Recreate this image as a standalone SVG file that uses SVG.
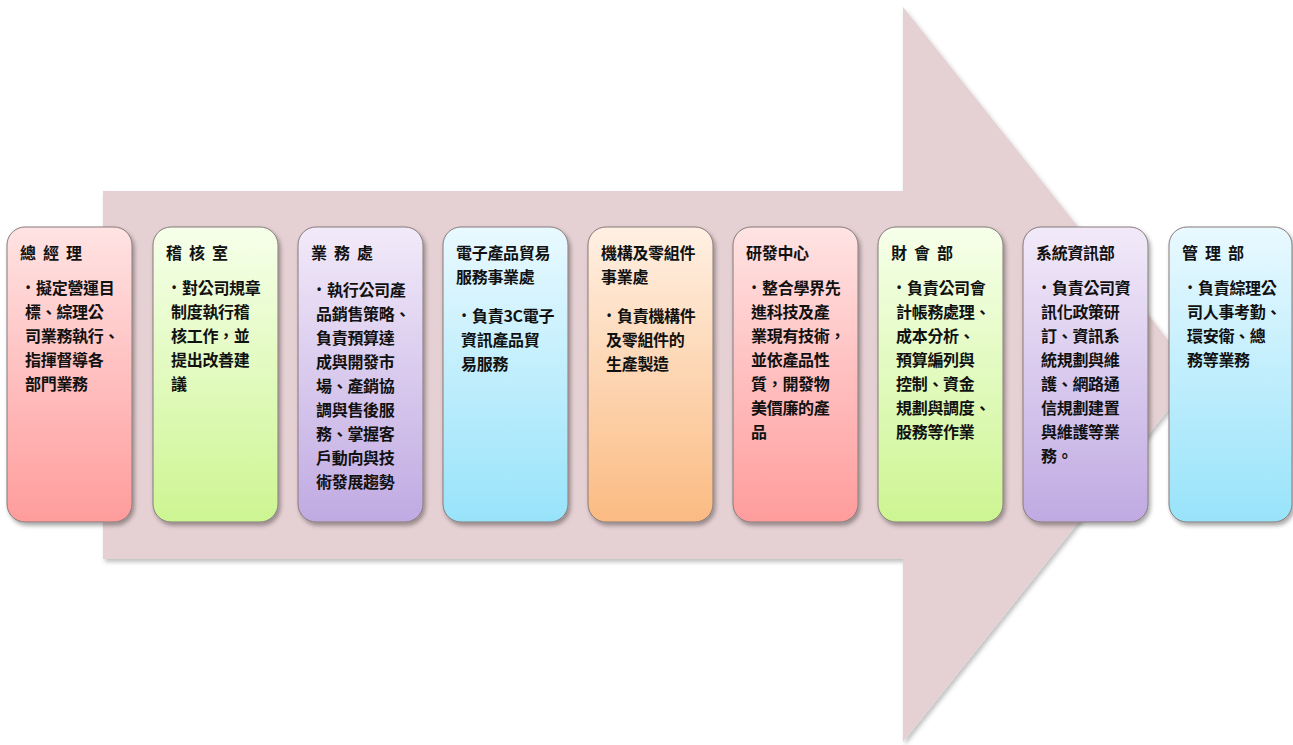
<svg xmlns="http://www.w3.org/2000/svg" width="1293" height="745" viewBox="0 0 1293 745">
<defs>
<filter id="sh" x="-10%" y="-10%" width="120%" height="120%"><feDropShadow dx="2" dy="3" stdDeviation="2" flood-color="#000" flood-opacity="0.35"/></filter>
<filter id="sha" x="-5%" y="-5%" width="110%" height="110%"><feDropShadow dx="2" dy="3" stdDeviation="2" flood-color="#000" flood-opacity="0.25"/></filter>
<linearGradient id="gR" x1="0" y1="0" x2="0" y2="1"><stop offset="0" stop-color="#ffe3e3"/><stop offset="1" stop-color="#ff9c9c"/></linearGradient>
<linearGradient id="gG" x1="0" y1="0" x2="0" y2="1"><stop offset="0" stop-color="#f6ffea"/><stop offset="1" stop-color="#cdf592"/></linearGradient>
<linearGradient id="gP" x1="0" y1="0" x2="0" y2="1"><stop offset="0" stop-color="#f2eaf9"/><stop offset="1" stop-color="#c0aae2"/></linearGradient>
<linearGradient id="gC" x1="0" y1="0" x2="0" y2="1"><stop offset="0" stop-color="#e9f9ff"/><stop offset="1" stop-color="#98e3fa"/></linearGradient>
<linearGradient id="gO" x1="0" y1="0" x2="0" y2="1"><stop offset="0" stop-color="#fff0e3"/><stop offset="1" stop-color="#fbbb82"/></linearGradient>
</defs>
<style>
.box{stroke:#857a7a;stroke-width:1;filter:url(#sh)}
text{font-family:"Noto Sans CJK TC","Noto Sans CJK SC",sans-serif;font-weight:bold;fill:#111;font-size:16px;letter-spacing:-0.3px}
.b{font-family:"Liberation Sans",sans-serif;font-size:12px;font-weight:bold}
</style>
<g id="arrow">
<path d="M103,191 H903 V7 L1196,375 L903,742 V559 H103 Z" fill="#e5d0d3" filter="url(#sha)"/>
</g>
<g id="connectors"/>
<g id="n1">
<rect class="box" x="7" y="227" width="125" height="295" rx="18" fill="url(#gR)"/>
<text y="259"><tspan x="20">總</tspan><tspan x="43">經</tspan><tspan x="66">理</tspan></text>
<text class="b" x="26" y="291">•</text>
<text><tspan x="36" y="294">擬定營運目</tspan><tspan x="25" y="318">標、綜理公</tspan><tspan x="25" y="342">司業務執行、</tspan><tspan x="25" y="366">指揮督導各</tspan><tspan x="25" y="390">部門業務</tspan></text>
</g>
<g id="n2">
<rect class="box" x="153" y="227" width="125" height="295" rx="18" fill="url(#gG)"/>
<text y="259"><tspan x="166">稽</tspan><tspan x="189">核</tspan><tspan x="212">室</tspan></text>
<text class="b" x="172" y="291">•</text>
<text><tspan x="182" y="294">對公司規章</tspan><tspan x="171" y="318">制度執行稽</tspan><tspan x="171" y="342">核工作，並</tspan><tspan x="171" y="366">提出改善建</tspan><tspan x="171" y="390">議</tspan></text>
</g>
<g id="n3">
<rect class="box" x="298" y="227" width="125" height="295" rx="18" fill="url(#gP)"/>
<text y="259"><tspan x="311">業</tspan><tspan x="334">務</tspan><tspan x="357">處</tspan></text>
<text class="b" x="317" y="293">•</text>
<text><tspan x="327" y="296">執行公司產</tspan><tspan x="316" y="320">品銷售策略、</tspan><tspan x="316" y="344">負責預算達</tspan><tspan x="316" y="368">成與開發市</tspan><tspan x="316" y="392">場、產銷協</tspan><tspan x="316" y="416">調與售後服</tspan><tspan x="316" y="440">務、掌握客</tspan><tspan x="316" y="464">戶動向與技</tspan><tspan x="316" y="488">術發展趨勢</tspan></text>
</g>
<g id="n4">
<rect class="box" x="443" y="227" width="125" height="295" rx="18" fill="url(#gC)"/>
<text><tspan x="456" y="259">電子產品貿易</tspan><tspan x="456" y="283">服務事業處</tspan></text>
<text class="b" x="462" y="319">•</text>
<text><tspan x="472" y="322">負責3C電子</tspan><tspan x="461" y="346">資訊產品貿</tspan><tspan x="461" y="370">易服務</tspan></text>
</g>
<g id="n5">
<rect class="box" x="588" y="227" width="125" height="295" rx="18" fill="url(#gO)"/>
<text><tspan x="601" y="259">機構及零組件</tspan><tspan x="601" y="283">事業處</tspan></text>
<text class="b" x="607" y="319">•</text>
<text><tspan x="617" y="322">負責機構件</tspan><tspan x="606" y="346">及零組件的</tspan><tspan x="606" y="370">生產製造</tspan></text>
</g>
<g id="n6">
<rect class="box" x="733" y="227" width="125" height="295" rx="18" fill="url(#gR)"/>
<text x="746" y="259">研發中心</text>
<text class="b" x="752" y="291">•</text>
<text><tspan x="762" y="294">整合學界先</tspan><tspan x="751" y="318">進科技及產</tspan><tspan x="751" y="342">業現有技術，</tspan><tspan x="751" y="366">並依產品性</tspan><tspan x="751" y="390">質，開發物</tspan><tspan x="751" y="414">美價廉的產</tspan><tspan x="751" y="438">品</tspan></text>
</g>
<g id="n7">
<rect class="box" x="878" y="227" width="125" height="295" rx="18" fill="url(#gG)"/>
<text y="259"><tspan x="891">財</tspan><tspan x="914">會</tspan><tspan x="937">部</tspan></text>
<text class="b" x="897" y="291">•</text>
<text><tspan x="907" y="294">負責公司會</tspan><tspan x="896" y="318">計帳務處理、</tspan><tspan x="896" y="342">成本分析、</tspan><tspan x="896" y="366">預算編列與</tspan><tspan x="896" y="390">控制、資金</tspan><tspan x="896" y="414">規劃與調度、</tspan><tspan x="896" y="438">股務等作業</tspan></text>
</g>
<g id="n8">
<rect class="box" x="1023" y="227" width="125" height="295" rx="18" fill="url(#gP)"/>
<text x="1036" y="259">系統資訊部</text>
<text class="b" x="1042" y="291">•</text>
<text><tspan x="1052" y="294">負責公司資</tspan><tspan x="1041" y="318">訊化政策研</tspan><tspan x="1041" y="342">訂、資訊系</tspan><tspan x="1041" y="366">統規劃與維</tspan><tspan x="1041" y="390">護、網路通</tspan><tspan x="1041" y="414">信規劃建置</tspan><tspan x="1041" y="438">與維護等業</tspan><tspan x="1041" y="462">務。</tspan></text>
</g>
<g id="n9">
<rect class="box" x="1169" y="227" width="123" height="295" rx="18" fill="url(#gC)"/>
<text y="259"><tspan x="1182">管</tspan><tspan x="1205">理</tspan><tspan x="1228">部</tspan></text>
<text class="b" x="1188" y="291">•</text>
<text><tspan x="1198" y="294">負責綜理公</tspan><tspan x="1187" y="318">司人事考勤、</tspan><tspan x="1187" y="342">環安衛、總</tspan><tspan x="1187" y="366">務等業務</tspan></text>
</g>
</svg>
